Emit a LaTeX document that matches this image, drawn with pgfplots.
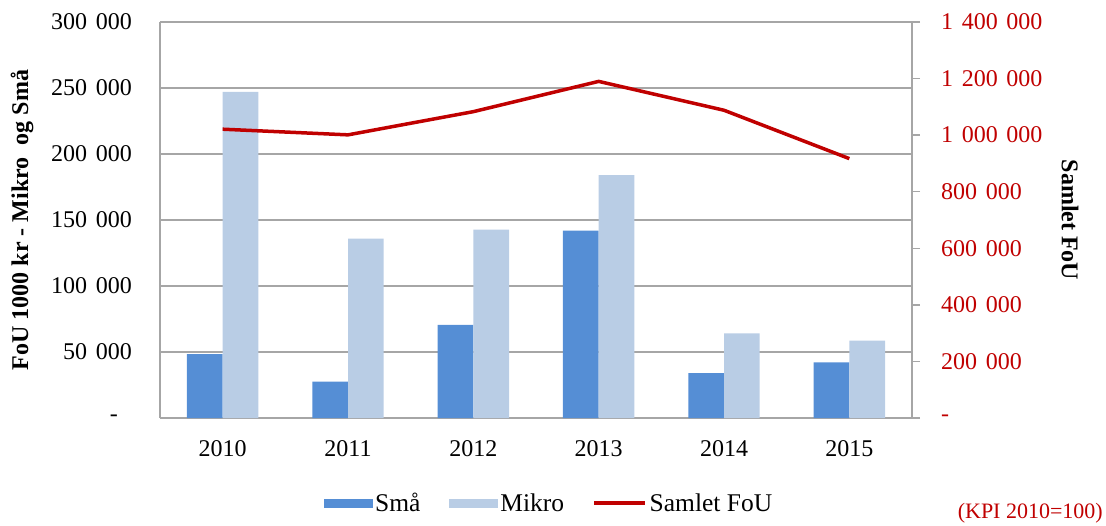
\documentclass[border=0pt]{standalone}
\usepackage{pgfplots}
\pgfplotsset{compat=1.18}
\usepackage{fontspec}
\setmainfont{Liberation Serif}
\definecolor{sma}{HTML}{558ED5}
\definecolor{mikro}{HTML}{B9CDE5}
\definecolor{rd}{HTML}{C00000}
\definecolor{gr}{HTML}{A6A6A6}
\newcommand\F{\fontsize{24}{28.8}\selectfont}
\newcommand\ts{\hspace{0.36em}}
\begin{document}
\begin{tikzpicture}
\begin{axis}[name=ax, scale only axis, width=752pt, height=396pt,
  xmin=-0.5, xmax=5.5, ymin=0, ymax=300000,
  axis x line*=bottom, axis y line*=left,
  axis line style={gr, line width=1.3pt},
  ybar=0pt, bar width=35.7pt,
  xtick={0,1,2,3,4,5}, xticklabels={2010,2011,2012,2013,2014,2015},
  major tick length=0pt,
  ytick={0,50000,100000,150000,200000,250000,300000},
  yticklabels={{-\kern14pt}, 50\ts000, 100\ts000, 150\ts000, 200\ts000, 250\ts000, 300\ts000},
  scaled y ticks=false,
  ymajorgrids, grid style={gr, line width=1.3pt},
  tick label style={font=\F, inner sep=0pt},
  yticklabel style={anchor=east}, yticklabel shift=28pt,
  xticklabel style={anchor=north}, xticklabel shift=22pt,
  legend columns=3,
  legend style={at={(0.5175,-0.215)}, anchor=center, draw=none, font=\fontsize{25.5}{30}\selectfont,
    nodes={inner sep=2.5pt},
    /tikz/every even column/.append style={column sep=26pt}},
]
\addplot[fill=sma, draw=none,
  legend image code/.code={\fill[sma] (0pt,-4.5pt) rectangle (49pt,4.5pt);}]
  coordinates {(0,48400) (1,27500) (2,70600) (3,142000) (4,34000) (5,42200)};
\addplot[fill=mikro, draw=none,
  legend image code/.code={\fill[mikro] (0pt,-4.5pt) rectangle (49pt,4.5pt);}]
  coordinates {(0,247000) (1,135900) (2,142700) (3,183900) (4,64100) (5,58600)};
\addlegendimage{legend image code/.code={\draw[rd, line width=3.5pt] (0pt,0pt) -- (51pt,0pt);}}
\legend{Små, Mikro, Samlet FoU}
\end{axis}
\begin{axis}[scale only axis, width=752pt, height=396pt,
  xmin=-0.5, xmax=5.5, ymin=0, ymax=1400000,
  hide x axis,
  axis y line*=right,
  axis line style={gr, line width=1.3pt},
  ytick={0,200000,400000,600000,800000,1000000,1200000,1400000},
  yticklabels={-, 200\ts000, 400\ts000, 600\ts000, 800\ts000, 1\ts000\ts000, 1\ts200\ts000, 1\ts400\ts000},
  scaled y ticks=false,
  tick align=outside, major tick length=8pt,
  ytick style={gr, line width=1.3pt},
  yticklabel style={font=\F, text=rd, anchor=west, inner sep=0pt},
  yticklabel shift=21pt,
]
\addplot[rd, line width=3.5pt, mark=none]
  coordinates {(0,1021000) (1,1001000) (2,1083000) (3,1190000) (4,1088000) (5,917000)};
\end{axis}
\node[rotate=90, font=\F\bfseries] at ([xshift=-138pt]ax.west) {FoU 1000 kr - Mikro\hspace{0.5em}og Små};
\node[rotate=-90, font=\F\bfseries] at ([xshift=158pt]ax.east) {Samlet FoU};
\node[anchor=east, text=rd, font=\fontsize{22}{26}\selectfont, inner sep=0pt] at ([xshift=191pt,yshift=-95pt]ax.south east) {(KPI 2010=100)};
\pgfresetboundingbox
\path[use as bounding box] ([xshift=-160pt,yshift=-108pt]ax.south west) rectangle ([xshift=194pt,yshift=22pt]ax.north east);
\end{tikzpicture}
\end{document}
